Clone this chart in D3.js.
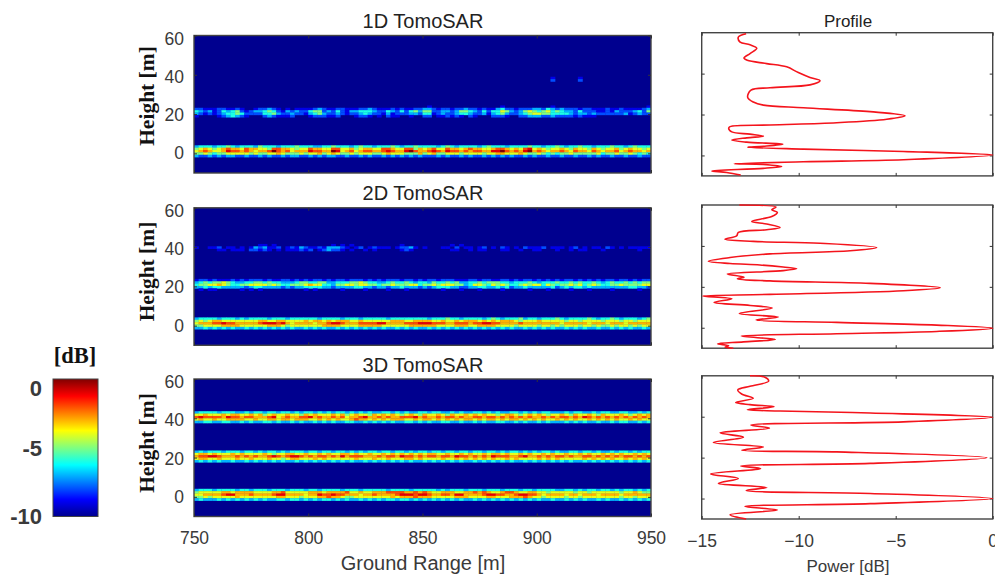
<!DOCTYPE html>
<html lang="en">
<head>
  <meta charset="UTF-8">
  <title>TomoSAR height profiles</title>
  <script src="https://d3js.org/d3.v7.min.js"></script>
  <style>
    html, body { margin: 0; padding: 0; background: #fff; overflow: hidden; }
    svg { display: block; }
    text { font-family: "Liberation Sans", Arial, sans-serif; fill: #3a3a3a; }
    .serif { font-family: "Liberation Serif", "Times New Roman", serif; font-weight: bold; fill: #111; }
    .axis path { display: none; }
    .axis line { stroke: #333; stroke-width: 1; }
    .box { fill: none; stroke: #444; stroke-width: 1.4; }
  </style>
</head>
<body>
  <svg width="995" height="578"></svg>

  <script>
    // ticks
    const rangeTicks = [750, 800, 850, 900, 950];
    const heightTicks = [0, 20, 40, 60];
    const powerTicks = [-15, -10, -5, 0];
    const colorbarTicks = [0, -5, -10];

    // jet colormap
    const jetStops = [0, 0.125, 0.375, 0.625, 0.875, 1];
    const jetColors = ["#00008f", "#0000ff", "#00ffff", "#ffff00", "#ff0000", "#800000"];

    // image rows, one char per 2 m of ground range, 0 = -10 dB ... a = 0 dB
    const rowStep = 1.2;

    const ground1D = [
      "3444344543 4443544434 4454443344 5444345443 4445434454 4443454344 4434544434 4445443445 4344544344 4544345444",
      "5676567877 6877665887 7656687766 8866756776 6887668857 6786687767 8776678876 7689676566 7657665765 6675676656",
      "6787667988 7876778a87 8677798877 a967867887 7898779a87 7898798878 7887799a87 879a787677 8768776876 7786787767",
      "5565455666 6656556676 5556566756 7655656665 5676665557 5675566656 6665667766 6765565454 5565555564 5565565454",
      "3223232332 2322323223 2332232323 3223223232 2323232323 2223232232 3223232323 2232322322 3223223232 2322322322"
    ];
    const canopy1D = [
      "0000000000 0000000000 0000000000 0000000000 0000000000 0100000000 0000000100 0000000010 0000000000 0000000001",
      "2211122112 1001223210 1011112321 1221112232 1112121122 3321221223 2212113422 1222332432 3222122111 2112111123",
      "4323124345 2123345421 3232245523 2421334443 2243242453 5522332355 4324244653 2356545645 4332422211 2132223425",
      "3212123445 4222244532 2322134532 2321223432 2131222332 4412322344 3223134532 2345665544 4432332322 2222312322",
      "1000012343 2100023211 1200012221 1200012210 1021100100 2201121210 2100022210 0223332232 2221211100 0000000000"
    ];
    const faint1D = [
      "0000000000 0000000000 0000000000 0000000000 0000000000 0000000000 0000000000 0000000010 0000100000 0000000000",
      "0000000000 0000000000 0000000000 0000000000 0000000000 0000000000 0000000000 0000000020 0000200000 0000000000"
    ];

    const ground2D = [
      "3444434443 4344443444 3444444344 4434443444 4434444444 4344454434 4443454344 4534434445 4344445434 4543444345",
      "5656776666 6666776677 6666767767 6777667666 6667776677 7766766767 7767676777 6566676666 6566566665 6665665666",
      "6777889887 7777899989 7677776778 9987778888 9977778889 9988877888 7889988777 7877777777 6777776777 6777677777",
      "5566667777 6666667776 5666666677 7766667777 7666666777 7776666777 6677776666 5666656656 5666566565 5656656566",
      "3343434343 3434343434 3433434343 3434343434 3433434343 3434343434 3434343434 3343434343 3434343343 3434343343"
    ];
    const canopy2D = [
      "1221211121 2122212112 2121212212 1221222121 2122212212 1221222111 2212211221 2122121212 1221212121 2212212122",
      "3454556543 3445545443 3345544553 3444556544 3345445434 4354454533 4454555443 4445434445 4454544543 4544545455",
      "4556676544 5566665654 4555676644 3556656655 4556555664 5565666553 4665465654 4565664654 5565645654 4556555566",
      "3343443333 3234433332 3233444433 2333344332 3323343332 3234443322 3344334342 3343333342 3434434333 3333344332",
      "0101100000 1010100000 0000101000 0010000100 0010001000 0000100010 0010000100 0001000100 0010001000 0100000100"
    ];
    const top2D = [
      "0000000000 0000110100 0000000000 1010100000 0000010000 0000001010 0000000000 0000000000 0000000000 0000000000",
      "1001120110 1013231120 1213211213 3321012012 1110122310 1000110201 1012010210 1021112011 1012010110 2101011111",
      "0000011011 1022121010 1112120123 2210100101 0000012100 0000001100 1011000110 0100110001 0010110001 0000000100"
    ];

    const ground3D = [
      "3444344443 4434443444 3444344344 4434443444 4434444344 4443434443 4443444344 4344344443 3443434434 4343443434",
      "5666667767 7776666778 6666677767 7778667667 7788887787 8766777667 7878766788 7667766566 6665665666 6665667655",
      "6677778997 7787777899 7777677988 9887776778 7777899989 9877887997 7778998877 8998876777 7677677767 7776777777",
      "5565666667 6666666677 6665666778 7765566666 6667677787 7766666777 6666776667 7787665666 6566566666 6665665666",
      "3433343434 3434343344 3443434344 3434334343 4344344343 4343434343 3434343434 3434343343 3434343343 4334343434"
    ];
    const canopy3D = [
      "3434443444 3443434434 3444344344 3443434344 3443443434 4344344344 3443443434 4343434434 3344344343 3434434344",
      "6776766676 7666676566 7766766767 6677676676 6767676767 6776676676 7667677676 6767667676 6766767667 6767667676",
      "7889987778 7878778987 8998787887 8797888777 8788798878 7887887988 7878798887 7897787878 8787788787 8787887878",
      "6776676667 6676667665 6776667676 6666676667 6676667767 6666766767 6767676676 7666676767 6666676767 6766767676",
      "3434343343 3434343434 3343434343 4343433434 3434343433 4343434343 3434343434 3343434343 4343343434 3434343434"
    ];
    const top3D = [
      "3444434443 3434434434 4343443434 3443434343 3443434334 4344334343 3443434334 4343434433 3434433434 4334433434",
      "6676667677 6676756766 7665767666 7675676657 6767656765 7667657667 6767665677 6567676566 7657667657 6667656767",
      "8988887988 7887778967 8778897877 8786778977 8787788897 8778788787 7887887878 7878778787 8878798787 8787878787",
      "6766766777 7667667767 7677766767 6766787767 6767776676 7767676767 7676776767 7676767667 6767667676 7676676766",
      "3344334433 4343344343 3434334343 4334433434 3434334434 3433443343 3434334433 4343343433 3434343343 3434433434"
    ];

    // profile curves
    const profile1Power = [-12.71,-13.11,-13.02,-12.51,-12.16,-12.51,-12.82,-12.65,-11.65,-10.62,-10.02,-9.42,-8.9,-9.42,-11.48,-12.46,-12.63,-12.34,-11.82,-9.76,-6.32,-4.52,-5.46,-8.04,-11.48,-13.54,-13.61,-13.45,-12.51,-11.82,-12.68,-13.45,-12.68,-10.82,-11.82,-12.63,-9.76,-4.6,0,-4.6,-9.76,-13.32,-11.82,-10.88,-11.82,-14.48,-13.71,-12.99];
    const profile1Height = [59.5,57.9,55.4,54.1,52.4,49.8,47.6,46.5,44.9,43.3,40.5,38.1,36.5,34.5,33.1,31.9,28.4,26.1,24.6,23.3,21.4,19.4,17.7,16,14.9,14.1,13.3,11.5,10.4,9.4,8.6,7.5,6.5,5.5,4.5,4.05,3.1,1.95,0.16,-2.1,-3.1,-4.05,-4.4,-5.35,-6.3,-7.6,-8.3,-9.6];
    const profile2Power = [-13.06,-11.17,-11.39,-11.1,-11.39,-12.42,-11.65,-10.96,-11.65,-13.11,-13.2,-13.8,-12.34,-8.9,-5.98,-7.35,-11.48,-13.54,-14.66,-13.54,-12,-10.8,-10.1,-10.8,-13.68,-12.82,-13.16,-11.48,-6.32,-2.71,-4.6,-11.48,-14.95,-13.44,-14.36,-12.5,-11.36,-13.06,-11.05,-12.2,-8.04,-2.89,0,-2.89,-8.04,-12.96,-11.2,-12.85,-14.18,-13.61,-13.8,-13.37];
    const profile2Height = [60,59,57.7,56.4,54.4,52,50.7,49,47.9,46.6,44.9,43.3,42.2,41.3,39.2,37.6,36.1,34.3,32.5,31.4,30.7,29.7,28.9,27.9,26.3,24.7,23.9,22.9,21.7,19.6,18.1,16.3,15.5,14.2,12.4,10.9,9.6,7,5.2,3.8,2.6,1.3,-0.2,-1.8,-2.9,-4.1,-5.7,-6.9,-7.8,-8.8,-9.5,-10];
    const profile3Power = [-12.51,-11.74,-11.55,-12.51,-13.14,-12.94,-12.34,-13.25,-12.51,-11.27,-12.65,-10.96,-6.32,0,-4.6,-12.47,-11.51,-14.05,-12.85,-14.4,-11.82,-12.94,-8.04,-0.31,-6.32,-12.99,-11.96,-14.54,-13.11,-14.14,-11.65,-12.71,-6.32,0,-6.32,-12.77,-11.1,-13.54,-12.71];
    const profile3Height = [60,59.3,57.4,54.9,53.1,51.1,49,47,45.9,44.9,43.4,42.8,41.8,39.7,37.5,35.9,34.4,32.1,30,27.4,25.2,23.6,22.8,20,17.2,15.9,14.6,12,9.8,7.4,5.4,3.9,2.5,0,-2.5,-3.9,-5.6,-7.9,-10];

    const titles = ["1D TomoSAR", "2D TomoSAR", "3D TomoSAR"];
    const imageBands = [
      [{top: 4.1, rows: ground1D}, {top: 24.4, rows: canopy1D}, {top: 39, rows: faint1D}],
      [{top: 4.2, rows: ground2D}, {top: 23.8, rows: canopy2D}, {top: 41.6, rows: top2D}],
      [{top: 4.1, rows: ground3D}, {top: 23.6, rows: canopy3D}, {top: 43.6, rows: top3D}]
    ];
    const profiles = [
      [profile1Power, profile1Height],
      [profile2Power, profile2Height],
      [profile3Power, profile3Height]
    ];

    const imageTops = [35.5, 207.8, 379];
    const imageH = 137.5;
    const profileTops = [32.7, 205, 375.8];
    const profileH = 143.2;
    const heightLabelY = [96, 271.5, 443];

    const svg = d3.select("svg");
    const defs = svg.append("defs");

    const blur = defs.append("filter").attr("id", "soft")
      .attr("x", "-2%").attr("y", "-5%").attr("width", "104%").attr("height", "110%");
    blur.append("feGaussianBlur").attr("stdDeviation", 0.5);

    const jet = d3.scaleLinear().domain(jetStops.map(t => -10 + t * 10)).range(jetColors).clamp(true);

    const x = d3.scaleLinear().domain([750, 950]).range([194, 651]);
    const px = d3.scaleLinear().domain([-15, 0]).range([701.7, 992.7]);

    const decode = c => parseInt(c, 16) - 10;

    titles.forEach((title, i) => {
      const y = d3.scaleLinear().domain([-10, 60]).range([imageTops[i] + imageH, imageTops[i]]);
      const g = svg.append("g");

      defs.append("clipPath").attr("id", `clip${i}`).append("rect")
        .attr("x", x.range()[0]).attr("y", imageTops[i])
        .attr("width", x.range()[1] - x.range()[0]).attr("height", imageH);

      g.append("rect")
        .attr("x", x.range()[0]).attr("y", imageTops[i])
        .attr("width", x.range()[1] - x.range()[0]).attr("height", imageH)
        .attr("fill", jet(-10));

      // cells of each band
      const cells = [];
      imageBands[i].forEach(band => {
        band.rows.forEach((row, r) => {
          const chars = row.replace(/ /g, "").split("");
          chars.forEach((c, k) => {
            if (c !== "0") cells.push({
              range: 750 + k * 2,
              top: band.top - r * rowStep,
              db: decode(c)
            });
          });
        });
      });

      g.append("g")
        .attr("clip-path", `url(#clip${i})`)
        .append("g")
        .attr("filter", "url(#soft)")
        .selectAll("rect")
        .data(cells)
        .enter()
        .append("rect")
        .attr("x", d => x(d.range))
        .attr("y", d => y(d.top))
        .attr("width", x(752) - x(750) + 0.3)
        .attr("height", y(0) - y(rowStep) + 0.3)
        .attr("fill", d => jet(d.db));

      g.append("rect").attr("class", "box")
        .attr("x", x.range()[0]).attr("y", imageTops[i])
        .attr("width", x.range()[1] - x.range()[0]).attr("height", imageH);

      // ticks point inside, like the other edges
      g.append("g").attr("class", "axis")
        .attr("transform", `translate(0,${y.range()[0]})`)
        .call(d3.axisBottom(x).tickValues(rangeTicks).tickSize(-3).tickPadding(15).tickFormat(i === 2 ? d3.format("d") : ""));
      g.append("g").attr("class", "axis")
        .attr("transform", `translate(0,${y.range()[1]})`)
        .call(d3.axisTop(x).tickValues(rangeTicks).tickSize(-3).tickFormat(""));
      g.append("g").attr("class", "axis")
        .attr("transform", `translate(${x.range()[0]},0)`)
        .call(d3.axisLeft(y).tickValues(heightTicks).tickSize(-3).tickPadding(10))
        // the labels sit a little tighter than the ticks in the original
        .selectAll("text").attr("transform", d => `translate(0,${d * 0.05})`);
      g.append("g").attr("class", "axis")
        .attr("transform", `translate(${x.range()[1]},0)`)
        .call(d3.axisRight(y).tickValues(heightTicks).tickSize(-3).tickFormat(""));

      g.selectAll(".axis text").style("font-size", "17.5px");

      g.append("text")
        .attr("x", 423).attr("y", imageTops[i] - 7.5)
        .attr("text-anchor", "middle").style("font-size", "20px").style("fill", "#222")
        .text(title);

      g.append("text").attr("class", "serif")
        .attr("transform", `translate(154,${heightLabelY[i]}) rotate(-90)`)
        .attr("text-anchor", "middle").style("font-size", "21.5px")
        .text("Height [m]");

      // profile panel
      const py = d3.scaleLinear().domain([-10, 60]).range([profileTops[i] + profileH, profileTops[i]]);
      const p = svg.append("g");

      p.append("rect").attr("class", "box")
        .attr("x", px.range()[0]).attr("y", profileTops[i])
        .attr("width", px.range()[1] - px.range()[0]).attr("height", profileH);

      p.append("g").attr("class", "axis")
        .attr("transform", `translate(0,${py.range()[0]})`)
        .call(d3.axisBottom(px).tickValues(powerTicks).tickSize(-3).tickPadding(15.5).tickFormat(i === 2 ? d3.format("d") : ""))
        .selectAll("text").style("font-size", "17.5px");
      p.append("g").attr("class", "axis")
        .attr("transform", `translate(0,${py.range()[1]})`)
        .call(d3.axisTop(px).tickValues(powerTicks).tickSize(-3).tickFormat(""));
      p.append("g").attr("class", "axis")
        .attr("transform", `translate(${px.range()[0]},0)`)
        .call(d3.axisLeft(py).tickValues(heightTicks.slice(0, 3)).tickSize(-3).tickFormat(""));
      p.append("g").attr("class", "axis")
        .attr("transform", `translate(${px.range()[1]},0)`)
        .call(d3.axisRight(py).tickValues(heightTicks.slice(0, 3)).tickSize(-3).tickFormat(""));

      const [powers, heights] = profiles[i];
      const line = d3.line()
        .x(k => px(powers[k]))
        .y(k => py(heights[k]))
        .curve(d3.curveCatmullRom.alpha(0.5));

      p.append("path")
        .attr("d", line(d3.range(powers.length)))
        .attr("fill", "none")
        .attr("stroke", "#f4141c")
        .attr("stroke-width", 1.6);
    });

    // x axis titles
    svg.append("text").attr("x", 423).attr("y", 570)
      .attr("text-anchor", "middle").style("font-size", "20px").text("Ground Range [m]");
    svg.append("text").attr("x", 848).attr("y", 27)
      .attr("text-anchor", "middle").style("font-size", "17px").style("fill", "#222").text("Profile");
    svg.append("text").attr("x", 848).attr("y", 572)
      .attr("text-anchor", "middle").style("font-size", "17px").text("Power [dB]");

    // colorbar
    const cbY = d3.scaleLinear().domain([-10, 0]).range([516.5, 379]);
    const grad = defs.append("linearGradient").attr("id", "jet")
      .attr("x1", 0).attr("y1", 1).attr("x2", 0).attr("y2", 0);
    grad.selectAll("stop").data(jetStops).enter().append("stop")
      .attr("offset", d => d)
      .attr("stop-color", (d, i) => jetColors[i]);

    svg.append("rect")
      .attr("x", 53).attr("y", cbY(0))
      .attr("width", 45).attr("height", cbY(-10) - cbY(0))
      .attr("fill", "url(#jet)")
      .attr("stroke", "#444").attr("stroke-width", 1);

    svg.selectAll(".cb-label").data(colorbarTicks).enter().append("text")
      .attr("class", "cb-label")
      .attr("x", 42)
      .attr("y", d => cbY(d) + (d === -10 ? 7 : d === 0 ? 17 : 8))
      .attr("text-anchor", "end")
      .style("font-size", "22px").style("font-weight", "bold")
      .text(d => d);

    svg.append("text").attr("class", "serif")
      .attr("x", 75).attr("y", 363)
      .attr("text-anchor", "middle").style("font-size", "22.5px")
      .text("[dB]");
  </script>
</body>
</html>
